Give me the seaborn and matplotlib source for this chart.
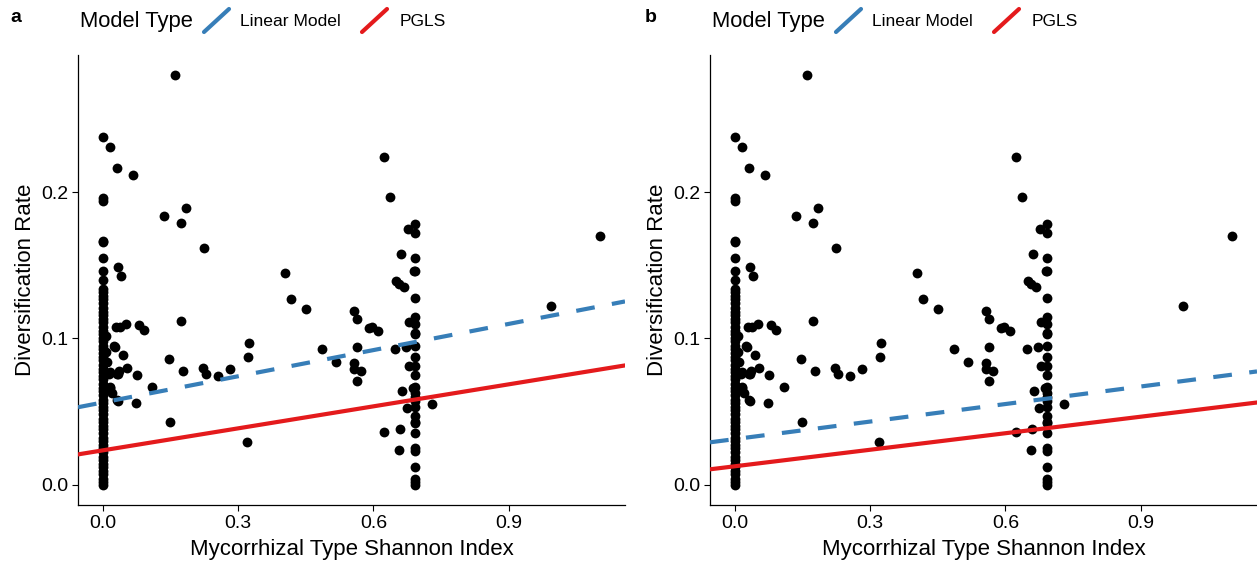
import numpy as np
import pandas as pd
import matplotlib
matplotlib.use("Agg")
import matplotlib.pyplot as plt
from matplotlib.lines import Line2D
import seaborn as sns

# points (same data in both panels)
# rates of the species with Shannon index 0
y_zero_col = [0.238, 0.196, 0.194, 0.167, 0.166, 0.155, 0.146, 0.140, 0.134, 0.132, 0.129,
              0.127, 0.124, 0.121, 0.118, 0.116, 0.113, 0.111, 0.108, 0.105, 0.103, 0.100,
              0.098, 0.095, 0.093, 0.090, 0.087, 0.085, 0.082, 0.079, 0.077, 0.074, 0.072,
              0.069, 0.066, 0.064, 0.061, 0.058, 0.056, 0.053, 0.051, 0.048, 0.045, 0.043,
              0.040, 0.038, 0.035, 0.032, 0.030, 0.027, 0.025, 0.022, 0.019, 0.017, 0.014,
              0.012, 0.009, 0.007, 0.004, 0.002, 0.0]
# rates of the species with Shannon index ln(2)
y_ln2_col = [0.178, 0.172, 0.155, 0.146, 0.128, 0.115, 0.110, 0.104, 0.103, 0.095, 0.087,
             0.081, 0.075, 0.067, 0.063, 0.060, 0.057, 0.053, 0.047, 0.043, 0.042, 0.035,
             0.025, 0.023, 0.012, 0.004, 0.002, 0.0]
other_x = [0.017, 0.032, 0.067, 0.136, 0.185, 0.174, 0.224, 0.160, 0.034, 0.041, 0.405,
           0.417, 0.451, 0.173, 0.030, 0.039, 0.052, 0.081, 0.091, 0.024, 0.028, 0.325,
           0.044, 0.054, 0.032, 0.037, 0.017, 0.076, 0.016, 0.021, 0.032, 0.074, 0.110,
           0.146, 0.177, 0.148, 0.223, 0.229, 0.256, 0.282, 0.321, 0.320, 0.033, 0.017,
           0.013, 0.034, 0.008, 0.008, 0.010, 0.485, 0.518, 0.558, 0.563, 0.564, 0.556,
           0.556, 0.564, 0.573, 0.624, 0.636, 0.676, 1.103, 0.662, 0.690, 0.650, 0.656,
           0.669, 0.591, 0.598, 0.611, 0.993, 0.680, 0.649, 0.673, 0.680, 0.687, 0.663,
           0.730, 0.674, 0.624, 0.659, 0.656]
other_y = [0.231, 0.217, 0.212, 0.184, 0.189, 0.179, 0.162, 0.280, 0.149, 0.143, 0.145,
           0.127, 0.120, 0.112, 0.108, 0.108, 0.110, 0.109, 0.106, 0.095, 0.094, 0.097,
           0.089, 0.080, 0.076, 0.078, 0.077, 0.075, 0.066, 0.063, 0.058, 0.056, 0.067,
           0.086, 0.078, 0.043, 0.080, 0.076, 0.074, 0.079, 0.087, 0.029, 0.057, 0.067,
           0.076, 0.076, 0.102, 0.091, 0.084, 0.093, 0.084, 0.119, 0.113, 0.094, 0.083,
           0.079, 0.071, 0.078, 0.224, 0.197, 0.175, 0.170, 0.158, 0.146, 0.139, 0.137,
           0.135, 0.107, 0.108, 0.105, 0.122, 0.111, 0.093, 0.094, 0.081, 0.066, 0.064,
           0.055, 0.0525, 0.036, 0.038, 0.0235]

shannon = [0.0] * len(y_zero_col) + [0.693] * len(y_ln2_col) + other_x
div_rate = y_zero_col + y_ln2_col + other_y
pts = pd.DataFrame({"shannon": shannon, "rate": div_rate})

# fitted lines per panel
panels = ["a", "b"]
lm_int = [0.0562, 0.0311]
lm_slope = [0.0597, 0.0400]
pgls_int = [0.0234, 0.0125]
pgls_slope = [0.0502, 0.0377]

blue = "#377EB8"
red = "#E41A1C"

sns.set_theme(style="ticks")
plt.rcParams["font.family"] = ["Liberation Sans", "DejaVu Sans"]
plt.rcParams["text.color"] = "black"
plt.rcParams["axes.labelcolor"] = "black"

fig = plt.figure(figsize=(12.57, 5.63), dpi=100)
W, H = 1257, 563

for i, p in enumerate(panels):
    off = i * 632
    ax = fig.add_axes([(78 + off) / W, 58 / H, 547 / W, 450 / H])
    sns.scatterplot(data=pts, x="shannon", y="rate", color="black", s=50,
                    linewidth=0, ax=ax, zorder=2)
    ax.axline((0, lm_int[i]), slope=lm_slope[i], color=blue, lw=3,
              dashes=(4.5, 4.2), zorder=3)
    ax.axline((0, pgls_int[i]), slope=pgls_slope[i], color=red, lw=3, zorder=3)
    ax.set_xlim(-0.055, 1.158)
    ax.set_ylim(-0.014, 0.294)
    ax.set_xticks([0.0, 0.3, 0.6, 0.9])
    ax.set_xticklabels(["0.0", "0.3", "0.6", "0.9"])
    ax.set_yticks([0.0, 0.1, 0.2])
    ax.set_yticklabels(["0.0", "0.1", "0.2"])
    ax.tick_params(labelsize=14, length=4, width=0.8, color="black",
                   labelcolor="black", pad=3)
    ax.set_xlabel("Mycorrhizal Type Shannon Index", fontsize=16, labelpad=5)
    ax.set_ylabel("Diversification Rate", fontsize=16, labelpad=4)
    for s in ["top", "right"]:
        ax.spines[s].set_visible(False)
    for s in ["left", "bottom"]:
        ax.spines[s].set_color("black")
        ax.spines[s].set_linewidth(0.9)

    # panel label + legend
    fig.text((10 + off + 3 * i) / W, 1 - 18 / H, p, fontsize=14, fontweight="bold", va="center")
    fig.text((80 + off) / W, 1 - 21 / H, "Model Type", fontsize=15.8, va="center")
    fig.add_artist(Line2D([(204 + off) / W, (229 + off) / W], [1 - 32 / H, 1 - 9 / H],
                          color=blue, lw=3, transform=fig.transFigure))
    fig.text((240 + off) / W, 1 - 21 / H, "Linear Model", fontsize=12.6, va="center")
    fig.add_artist(Line2D([(362 + off) / W, (387 + off) / W], [1 - 32 / H, 1 - 9 / H],
                          color=red, lw=3, transform=fig.transFigure))
    fig.text((400 + off) / W, 1 - 21 / H, "PGLS", fontsize=12.6, va="center")

fig.savefig("out.png", dpi=100)
